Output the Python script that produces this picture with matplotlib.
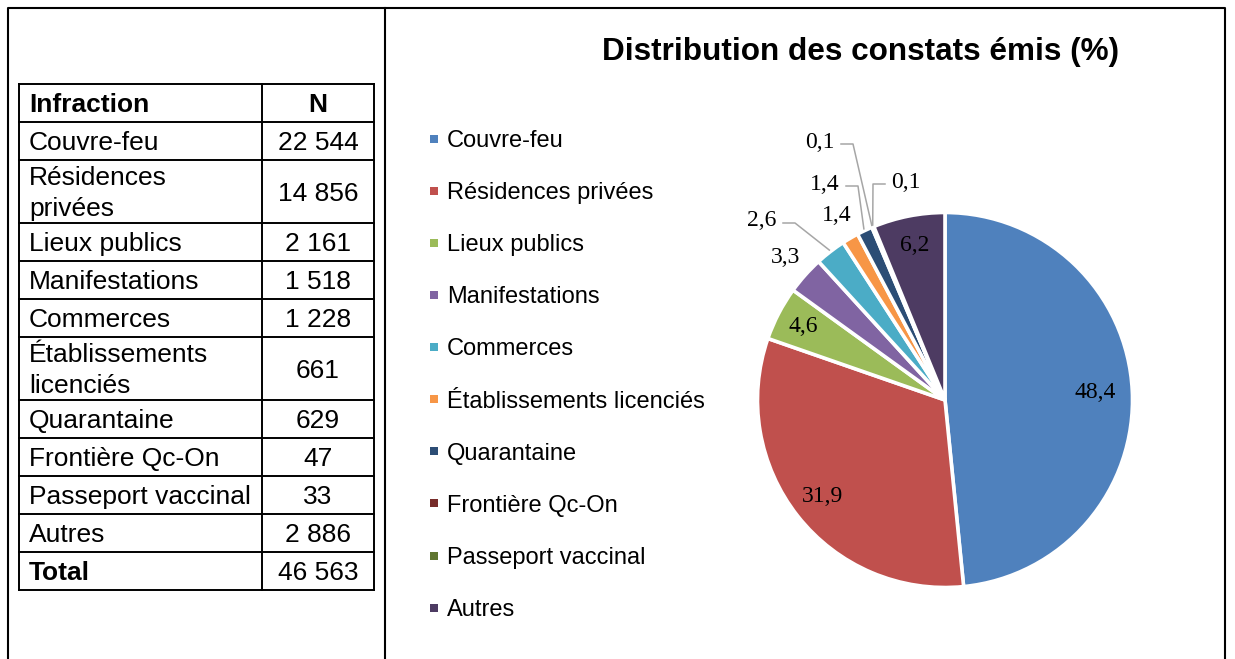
import numpy as np
import matplotlib.pyplot as plt
from matplotlib.lines import Line2D

plt.rcParams["font.family"] = "Liberation Sans"

# données
categories = ["Couvre-feu", "Résidences privées", "Lieux publics", "Manifestations",
              "Commerces", "Établissements licenciés", "Quarantaine", "Frontière Qc-On",
              "Passeport vaccinal", "Autres"]
table_names = ["Couvre-feu", "Résidences\nprivées", "Lieux publics", "Manifestations",
               "Commerces", "Établissements\nlicenciés", "Quarantaine", "Frontière Qc-On",
               "Passeport vaccinal", "Autres"]
counts = [22544, 14856, 2161, 1518, 1228, 661, 629, 47, 33, 2886]
colors = ["#4F81BD", "#C0504D", "#9BBB59", "#8064A2", "#4BACC6",
          "#F79646", "#2C4D75", "#772C2A", "#5F7530", "#4D3B62"]
title = "Distribution des constats émis (%)"

# placement des étiquettes (fraction du rayon, ou position avec ligne de rappel en px)
label_r = [0.80, 0.83, 0.85, 1.14, None, 1.14, None, None, None, 0.84]
leader_pos = {4: (-183, 179), 6: (-120, 216), 7: (-125, 258), 8: (-39, 218)}

W, H = 1235, 659
fig = plt.figure(figsize=(W / 100, H / 100), dpi=100)
bg = fig.add_axes([0, 0, 1, 1])
bg.set_xlim(0, W)
bg.set_ylim(H, 0)
bg.axis("off")

# cadre
bg.plot([8, 8, 1225, 1225], [H, 7.5, 7.5, H], color="black", lw=1.5, solid_capstyle="projecting")
bg.plot([385, 385], [7.5, H], color="black", lw=1.5)

# tableau
def fmt(n):
    return f"{n:,}".replace(",", " ")

rows = [("Infraction", "N", True, True)]
rows += [(n, fmt(v), False, False) for n, v in zip(table_names, counts)]
rows += [("Total", fmt(sum(counts)), True, False)]

x0, x1, x2 = 19, 262, 374
y = 84
bounds = [y]
for r in rows:
    y += 63 if "\n" in r[0] else 38
    bounds.append(y)
for b in bounds:
    bg.plot([x0, x2], [b, b], color="black", lw=1.4, solid_capstyle="projecting")
for x in (x0, x1, x2):
    bg.plot([x, x], [bounds[0], bounds[-1]], color="black", lw=1.4, solid_capstyle="projecting")

fs_tab = 19
cap = 0.716 * fs_tab * 100 / 72 / 2
for (name, val, bn, bv), top, bot in zip(rows, bounds[:-1], bounds[1:]):
    ym = (top + bot) / 2
    lines = name.split("\n")
    for i, line in enumerate(lines):
        yy = ym + (i - (len(lines) - 1) / 2) * 31
        bg.text(x0 + 10, yy + cap, line, fontsize=fs_tab, va="baseline", ha="left",
                fontweight="bold" if bn else "normal")
    bg.text((x1 + x2) / 2, ym + cap, val, fontsize=fs_tab, va="baseline", ha="center",
            fontweight="bold" if bv else "normal")

# titre
bg.text(861, 60, title, fontsize=22.7, fontweight="bold", ha="center", va="baseline")

# camembert
cx, cy, R, S = 945, 400, 187.5, 290
ax = fig.add_axes([(cx - S) / W, (H - cy - S) / H, 2 * S / W, 2 * S / H])
wedges, _ = ax.pie(counts, colors=colors, radius=R, startangle=90, counterclock=False,
                   wedgeprops=dict(edgecolor="white", linewidth=2.6))
ax.set_xlim(-S, S)
ax.set_ylim(-S, S)
ax.axis("off")

total = sum(counts)
pct = [100 * v / total for v in counts]
lab_font = dict(family="Liberation Serif", fontsize=17, color="black")
for i, w in enumerate(wedges):
    txt = f"{pct[i]:.1f}".replace(".", ",")
    mid = np.deg2rad((w.theta1 + w.theta2) / 2)
    if label_r[i] is not None:
        r = label_r[i] * R
        ax.text(r * np.cos(mid), r * np.sin(mid), txt, ha="center", va="center", **lab_font)
    else:
        tx, ty = leader_pos[i]
        ex, ey = 1.01 * R * np.cos(mid), 1.01 * R * np.sin(mid)
        sgn = 1 if ex > tx else -1
        ax.text(tx, ty, txt, ha="center", va="center", **lab_font)
        ly = ty - 2
        ax.plot([tx + sgn * 21, tx + sgn * 33, ex], [ly, ly, ey], color="#A6A6A6", lw=1.1)

# légende
handles = [Line2D([], [], marker="s", ls="none", markersize=5.2, markerfacecolor=c,
                  markeredgewidth=0) for c in colors]
fig.legend(handles, categories, loc="center left", bbox_to_anchor=(430 / W, (H - 375.5) / H),
           frameon=False, fontsize=17, handlelength=0.3, handletextpad=0.42,
           labelspacing=1.275, borderpad=0, borderaxespad=0)

fig.savefig("out.png", dpi=100)
